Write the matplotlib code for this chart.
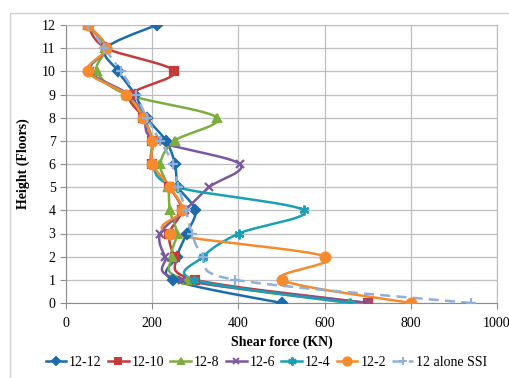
import matplotlib
matplotlib.use("Agg")
import matplotlib.pyplot as plt
from matplotlib.lines import Line2D
from matplotlib.patches import Rectangle
import numpy as np

floors = np.arange(13)

# storey shear (KN) from floor 0 up to floor 12
shear_12_12 = [500, 249, 257, 280, 300, 261, 253, 232, 187, 160, 121, 93, 210]
shear_12_10 = [700, 300, 253, 240, 268, 240, 200, 200, 179, 150, 251, 93, 50]
shear_12_8 = [660, 280, 245, 257, 241, 237, 219, 252, 350, 142, 72, 90, 50]
shear_12_6 = [700, 268, 230, 219, 276, 332, 403, 210, 180, 145, 55, 93, 50]
shear_12_4 = [660, 298, 318, 401, 552, 258, 200, 200, 180, 140, 52, 93, 50]
shear_12_2 = [800, 500, 602, 241, 270, 241, 200, 200, 179, 140, 50, 93, 50]
shear_alone = [940, 393, 319, 292, 278, 261, 249, 218, 187, 162, 128, 89, 50]

series = [
    ("12-12", shear_12_12, "#1B6CA8", "D", 5, "-"),
    ("12-10", shear_12_10, "#C43B3B", "s", 6, "-"),
    ("12-8", shear_12_8, "#7CAE3E", "^", 6, "-"),
    ("12-6", shear_12_6, "#7A58A0", "x", 6, "-"),
    ("12-4", shear_12_4, "#1AA0B4", (6, 2, 0), 7, "-"),
    ("12-2", shear_12_2, "#F58A2E", "o", 7, "-"),
    ("12 alone SSI", shear_alone, "#8FB0DA", "+", 7, (0, (4, 2.5))),
]


def smooth(xs, ys, n=30):
    # cubic bezier through the points, control points at 1/6 of the neighbour chord
    p = np.column_stack([xs, ys]).astype(float)
    p = np.vstack([p[0], p, p[-1]])
    out = []
    for i in range(1, len(p) - 2):
        p0, p1, p2, p3 = p[i - 1], p[i], p[i + 1], p[i + 2]
        c1 = p1 + (p2 - p0) / 6
        c2 = p2 - (p3 - p1) / 6
        t = np.linspace(0, 1, n)[:, None]
        seg = ((1 - t) ** 3 * p1 + 3 * (1 - t) ** 2 * t * c1
               + 3 * (1 - t) * t ** 2 * c2 + t ** 3 * p2)
        out.append(seg if i == 1 else seg[1:])
    out = np.vstack(out)
    return out[:, 0], out[:, 1]


plt.rcParams["font.family"] = ["Liberation Serif", "DejaVu Serif"]
plt.rcParams["font.size"] = 10

fig = plt.figure(figsize=(5.09, 3.78), dpi=100)
ax = fig.add_axes([66 / 509, 75 / 378, 431 / 509, 278 / 378])

handles = []
for name, vals, color, marker, ms, ls in series:
    sx, sy = smooth(vals, floors)
    ax.plot(sx, sy, color=color, lw=1.8, ls=ls, solid_capstyle="round", zorder=3)
    ax.plot(vals, floors, ls="none", marker=marker, ms=ms, color=color,
            mec=color, mew=1.6, zorder=4)
    handles.append(Line2D([], [], color=color, lw=1.8, ls=ls, marker=marker,
                          ms=ms - 1, mec=color, mew=1.4))

ax.set_xlim(0, 1000)
ax.set_ylim(0, 12)
ax.set_xticks(np.arange(0, 1001, 200))
ax.set_yticks(np.arange(0, 13, 1))
ax.grid(True, color="#BEBEBE", lw=0.9)
ax.set_axisbelow(True)
for side in ["top", "right"]:
    ax.spines[side].set_color("#BEBEBE")
for side in ["left", "bottom"]:
    ax.spines[side].set_color("#8C8C8C")
ax.tick_params(axis="both", colors="#8C8C8C", labelcolor="black", length=4, width=0.8)
ax.tick_params(axis="x", pad=6)
ax.set_xlabel("Shear force (KN)", fontweight="bold", labelpad=4)
ax.set_ylabel("Height (Floors)", fontweight="bold", labelpad=8)

fig.legend(handles, [s[0] for s in series], loc="center", ncol=7,
           bbox_to_anchor=(0.523, 16 / 378), frameon=False, handlelength=1.5,
           handletextpad=0.2, columnspacing=0.45, borderaxespad=0,
           fontsize=10)

# chart area border
fig.add_artist(Rectangle((10 / 509, -0.2), 1.2, 0.2 + 365 / 378,
                         transform=fig.transFigure, fill=False,
                         edgecolor="#D0D0D0", lw=1.0))

fig.savefig("out.png", dpi=100)
